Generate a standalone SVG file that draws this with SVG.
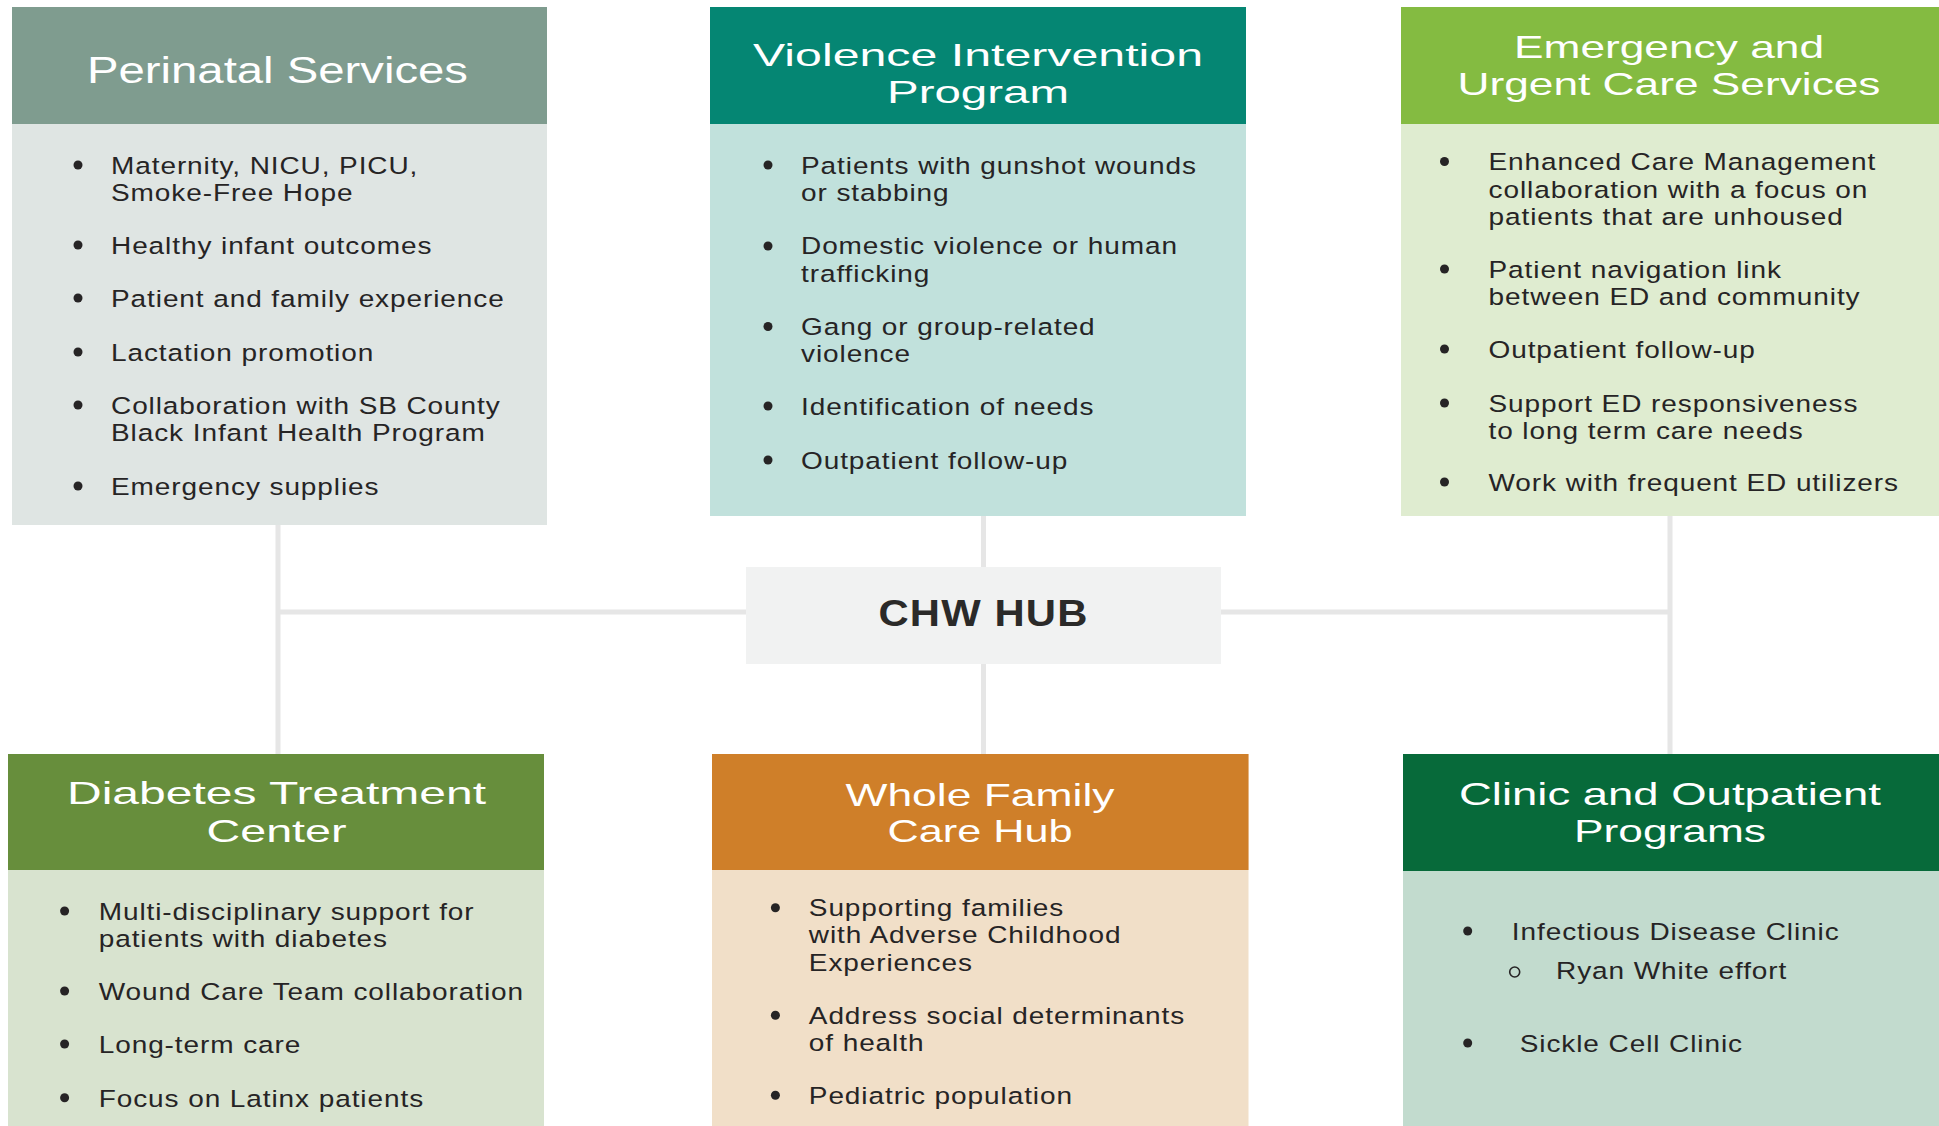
<svg xmlns="http://www.w3.org/2000/svg" width="1939" height="1126" viewBox="0 0 1939 1126">
<style>
.title{font-family:"Liberation Sans",Arial,sans-serif;font-size:32px;fill:#ffffff;text-anchor:middle}
.title1{font-family:"Liberation Sans",Arial,sans-serif;font-size:37px;fill:#ffffff;text-anchor:middle}
.body{font-family:"Liberation Sans",Arial,sans-serif;font-size:24.5px;fill:#262425;letter-spacing:0.8px}
.dot{fill:#262425}
.ring{fill:none;stroke:#262425;stroke-width:1.6}
.conn{stroke:#e6e6e6;stroke-width:5;fill:none}
.hub{font-family:"Liberation Sans",Arial,sans-serif;font-size:37px;font-weight:bold;fill:#2b2a29;text-anchor:middle;letter-spacing:1px}
</style>
<rect x="0" y="0" width="1939" height="1126" fill="#ffffff"/>
<g id="connectors">
<line class="conn" x1="278" y1="612" x2="1670" y2="612"/>
<line class="conn" x1="278" y1="525" x2="278" y2="754"/>
<line class="conn" x1="983.5" y1="516" x2="983.5" y2="754"/>
<line class="conn" x1="1670" y1="516" x2="1670" y2="754"/>
</g>
<g id="chw-hub">
<rect x="746" y="567" width="475" height="97" fill="#f1f2f2"/>
<text class="hub" x="983.5" y="626" textLength="210" lengthAdjust="spacingAndGlyphs">CHW HUB</text>
</g>
<g id="perinatal">
<rect x="12" y="7" width="535" height="518" fill="#dfe5e3"/>
<rect x="12" y="7" width="535" height="117" fill="#7f9c8f"/>
<text class="title1" x="277.5" y="83" textLength="381" lengthAdjust="spacingAndGlyphs">Perinatal Services</text>
<circle class="dot" cx="78" cy="165" r="4.5"/>
<circle class="dot" cx="78" cy="245" r="4.5"/>
<circle class="dot" cx="78" cy="298" r="4.5"/>
<circle class="dot" cx="78" cy="352" r="4.5"/>
<circle class="dot" cx="78" cy="405" r="4.5"/>
<circle class="dot" cx="78" cy="486" r="4.5"/>
<g transform="translate(111 0) scale(1.143 1)">
<text class="body" x="0" y="174">Maternity, NICU, PICU,<tspan x="0" dy="27.5">Smoke-Free Hope</tspan></text>
<text class="body" x="0" y="254">Healthy infant outcomes</text>
<text class="body" x="0" y="307">Patient and family experience</text>
<text class="body" x="0" y="361">Lactation promotion</text>
<text class="body" x="0" y="414">Collaboration with SB County<tspan x="0" dy="27.5">Black Infant Health Program</tspan></text>
<text class="body" x="0" y="495">Emergency supplies</text>
</g>
</g>
<g id="violence">
<rect x="710" y="7" width="536" height="509" fill="#c1e1dc"/>
<rect x="710" y="7" width="536" height="117" fill="#058673"/>
<text class="title"><tspan x="978" y="66" textLength="450" lengthAdjust="spacingAndGlyphs">Violence Intervention</tspan><tspan x="978" y="103" textLength="182" lengthAdjust="spacingAndGlyphs">Program</tspan></text>
<circle class="dot" cx="768" cy="165" r="4.5"/>
<circle class="dot" cx="768" cy="246" r="4.5"/>
<circle class="dot" cx="768" cy="326.5" r="4.5"/>
<circle class="dot" cx="768" cy="406" r="4.5"/>
<circle class="dot" cx="768" cy="460" r="4.5"/>
<g transform="translate(801 0) scale(1.143 1)">
<text class="body" x="0" y="174">Patients with gunshot wounds<tspan x="0" dy="27.5">or stabbing</tspan></text>
<text class="body" x="0" y="254.5">Domestic violence or human<tspan x="0" dy="27.5">trafficking</tspan></text>
<text class="body" x="0" y="335">Gang or group-related<tspan x="0" dy="27.5">violence</tspan></text>
<text class="body" x="0" y="415">Identification of needs</text>
<text class="body" x="0" y="469">Outpatient follow-up</text>
</g>
</g>
<g id="emergency">
<rect x="1401" y="7" width="538" height="509" fill="#dfecd0"/>
<rect x="1401" y="7" width="538" height="117" fill="#84bb41"/>
<text class="title"><tspan x="1669" y="58" textLength="310" lengthAdjust="spacingAndGlyphs">Emergency and</tspan><tspan x="1669" y="95" textLength="423" lengthAdjust="spacingAndGlyphs">Urgent Care Services</tspan></text>
<circle class="dot" cx="1444.5" cy="161.5" r="4.5"/>
<circle class="dot" cx="1444.5" cy="269" r="4.5"/>
<circle class="dot" cx="1444.5" cy="349" r="4.5"/>
<circle class="dot" cx="1444.5" cy="403" r="4.5"/>
<circle class="dot" cx="1444.5" cy="482" r="4.5"/>
<g transform="translate(1488.5 0) scale(1.143 1)">
<text class="body" x="0" y="170.5">Enhanced Care Management<tspan x="0" dy="27.5">collaboration with a focus on</tspan><tspan x="0" dy="27.5">patients that are unhoused</tspan></text>
<text class="body" x="0" y="278">Patient navigation link<tspan x="0" dy="27.5">between ED and community</tspan></text>
<text class="body" x="0" y="358">Outpatient follow-up</text>
<text class="body" x="0" y="412">Support ED responsiveness<tspan x="0" dy="27.5">to long term care needs</tspan></text>
<text class="body" x="0" y="491">Work with frequent ED utilizers</text>
</g>
</g>
<g id="diabetes">
<rect x="8" y="754" width="536" height="372" fill="#d8e3cf"/>
<rect x="8" y="754" width="536" height="116" fill="#678e3c"/>
<text class="title"><tspan x="276.5" y="804" textLength="419" lengthAdjust="spacingAndGlyphs">Diabetes Treatment</tspan><tspan x="276.5" y="842" textLength="140" lengthAdjust="spacingAndGlyphs">Center</tspan></text>
<circle class="dot" cx="64.6" cy="911" r="4.5"/>
<circle class="dot" cx="64.6" cy="991" r="4.5"/>
<circle class="dot" cx="64.6" cy="1044" r="4.5"/>
<circle class="dot" cx="64.6" cy="1097.7" r="4.5"/>
<g transform="translate(98.7 0) scale(1.143 1)">
<text class="body" x="0" y="920">Multi-disciplinary support for<tspan x="0" dy="27.5">patients with diabetes</tspan></text>
<text class="body" x="0" y="1000">Wound Care Team collaboration</text>
<text class="body" x="0" y="1053">Long-term care</text>
<text class="body" x="0" y="1106.7">Focus on Latinx patients</text>
</g>
</g>
<g id="whole-family">
<rect x="712" y="754" width="536.5" height="372" fill="#f1dfc8"/>
<rect x="712" y="754" width="536.5" height="116" fill="#cf7f29"/>
<text class="title"><tspan x="980" y="806" textLength="269" lengthAdjust="spacingAndGlyphs">Whole Family</tspan><tspan x="980" y="842" textLength="185" lengthAdjust="spacingAndGlyphs">Care Hub</tspan></text>
<circle class="dot" cx="775.4" cy="907.7" r="4.5"/>
<circle class="dot" cx="775.4" cy="1015.3" r="4.5"/>
<circle class="dot" cx="775.4" cy="1095.3" r="4.5"/>
<g transform="translate(808.8 0) scale(1.143 1)">
<text class="body" x="0" y="916">Supporting families<tspan x="0" dy="27.5">with Adverse Childhood</tspan><tspan x="0" dy="27.5">Experiences</tspan></text>
<text class="body" x="0" y="1024">Address social determinants<tspan x="0" dy="27.5">of health</tspan></text>
<text class="body" x="0" y="1104.3">Pediatric population</text>
</g>
</g>
<g id="clinic">
<rect x="1403" y="754" width="536" height="372" fill="#c2dbce"/>
<rect x="1403" y="754" width="536" height="117" fill="#076a3a"/>
<text class="title"><tspan x="1670" y="805" textLength="422" lengthAdjust="spacingAndGlyphs">Clinic and Outpatient</tspan><tspan x="1670" y="842" textLength="192" lengthAdjust="spacingAndGlyphs">Programs</tspan></text>
<circle class="dot" cx="1467.7" cy="931" r="4.5"/>
<circle class="ring" cx="1514.7" cy="972" r="5"/>
<circle class="dot" cx="1467.7" cy="1043" r="4.5"/>
<text class="body" transform="translate(1511.8 0) scale(1.143 1)" x="0" y="940">Infectious Disease Clinic</text>
<text class="body" transform="translate(1556 0) scale(1.143 1)" x="0" y="979">Ryan White effort</text>
<text class="body" transform="translate(1519.7 0) scale(1.143 1)" x="0" y="1052.3">Sickle Cell Clinic</text>
</g>
</svg>
